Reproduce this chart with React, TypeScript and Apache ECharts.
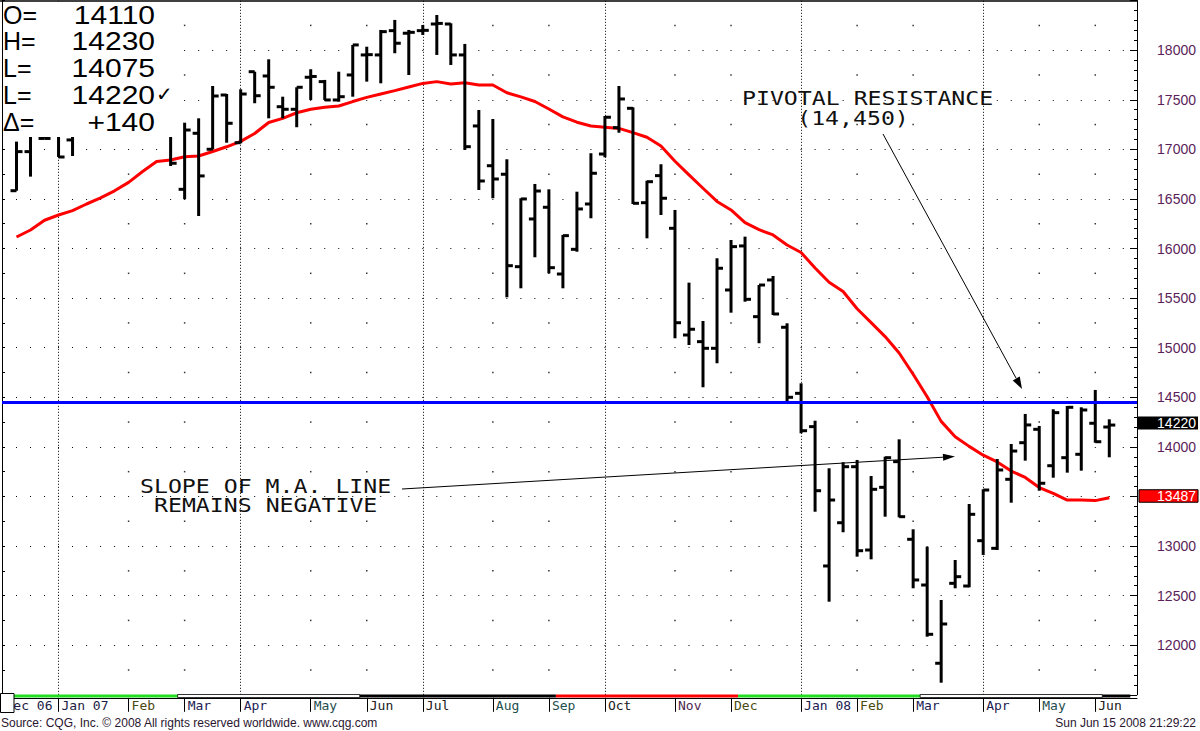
import React, { useEffect, useRef } from 'react';
import * as echarts from 'echarts';

// Weekly bars. Index 0 = week of 4 Dec 2006, index 79 = week of 9 Jun 2008.
// (Values for weeks hidden under the quote box are estimated.)
const openP: (number | null)[] = [
  null, 16583, 16977, 17110, 17200, 17095, 17350, 17420, 17450, 17560,
  17500, 17930, 18200, 16597, 17162, 17001, 17548, 17067, 17783, 17740,
  17430, 17404, 17727, 17683, 17498, 17750, 17952, 17952, 18197, 18171,
  18197, 18264, 18264, 17952, 17236, 16835, 16749, 15817, 16298, 16416,
  15743, 15992, 16449, 16953, 17219, 17414, 16462, 16735, 16204, 15128,
  15061, 14994, 15582, 16026, 15313, 15683, 15206, 14540, 14204, 12799,
  13235, 13800, 12960, 13592, 13851, 13068, 12607, 11818, 12624, 12597,
  13054, 12977, 13673, 14042, 14177, 13810, 13891, 13925, 14238, 14200,
];
const highP: (number | null)[] = [
  null, 17078, 17200, 17350, 17300, 17400, 17480, 17600, 17620, 17650,
  17950, 18250, 18300, 17269, 17313, 17639, 17558, 17606, 17783, 17908,
  17531, 17626, 17808, 17700, 17783, 18053, 18035, 18204, 18305, 18204,
  18254, 18355, 18271, 18063, 17397, 17306, 16900, 16507, 16651, 16597,
  16137, 16573, 16961, 17337, 17639, 17424, 16684, 16850, 16389, 15656,
  15269, 15902, 16086, 16120, 15632, 15723, 15246, 14641, 14264, 13784,
  13845, 13868, 13706, 13901, 14076, 13169, 12993, 12456, 12859, 13424,
  13572, 13878, 14029, 14332, 14211, 14379, 14412, 14399, 14574, 14278,
];
const lowP: (number | null)[] = [
  null, 16583, 16725, 17110, 16923, 16933, 17150, 17300, 17350, 17380,
  17450, 17880, 16832, 16497, 16328, 17001, 17067, 17061, 17465, 17313,
  17313, 17223, 17498, 17498, 17481, 17531, 17683, 17666, 17969, 17750,
  18153, 17952, 17851, 16994, 16590, 16507, 15508, 15599, 15912, 15750,
  15599, 15968, 16305, 16920, 17168, 16449, 16103, 16338, 15095, 15027,
  14601, 14843, 15353, 15464, 15045, 15330, 14439, 14137, 13346, 12439,
  13139, 12893, 12866, 13296, 13290, 12574, 12086, 11622, 12574, 12584,
  12910, 12960, 13437, 13861, 13558, 13689, 13740, 13760, 14042, 13895,
];
const closeP: (number | null)[] = [
  null, 16977, 17150, 17110, 16923, 17350, 17420, 17450, 17560, 17500,
  17930, 18190, 16860, 17195, 16732, 17538, 17263, 17558, 17541, 17626,
  17404, 17626, 17735, 17498, 17531, 18053, 17955, 18187, 18070, 18180,
  18200, 18270, 17952, 17027, 16681, 16701, 15827, 16500, 16580, 15807,
  16130, 16399, 16759, 17324, 17508, 16456, 16674, 16507, 15252, 15186,
  14994, 15801, 16019, 15488, 15632, 15340, 14500, 14163, 13558, 13464,
  13800, 12953, 13572, 13891, 13296, 12658, 12110, 12214, 12691, 13320,
  13565, 13767, 13958, 14221, 13633, 14345, 14399, 14372, 14052, 14220,
];
// Moving average (red line)
const maValues: (number | null)[] = [
  null, 16116, 16187, 16285, 16338, 16382, 16449, 16510, 16582, 16667,
  16777, 16878, 16893, 16925, 16933, 16978, 17026, 17081, 17160, 17271,
  17312, 17369, 17404, 17424, 17437, 17482, 17524, 17558, 17592, 17629,
  17665, 17683, 17659, 17671, 17649, 17649, 17571, 17529, 17483, 17407,
  17327, 17274, 17236, 17222, 17211, 17169, 17122, 17034, 16880, 16742,
  16608, 16475, 16389, 16261, 16190, 16137, 16036, 15960, 15804, 15660,
  15566, 15393, 15253, 15112, 14947, 14732, 14506, 14257, 14103, 14005,
  13916, 13848, 13756, 13692, 13590, 13532, 13464, 13464, 13458, 13487,
];

const monthTickIdx = [0, 4, 9, 13, 17, 22, 26, 30, 35, 39, 43, 48, 52, 57, 61, 65, 70, 74, 78];
const monthLabels = ['Dec 06', 'Jan 07', 'Feb', 'Mar', 'Apr', 'May', 'Jun', 'Jul', 'Aug', 'Sep', 'Oct', 'Nov', 'Dec', 'Jan 08', 'Feb', 'Mar', 'Apr', 'May', 'Jun'];
const monthColors = ['#1c1c44', '#1c1c44', '#4a4a12', '#202052', '#202052', '#1e4e4e', '#202020', '#202020', '#1e4e4e', '#1e4e4e', '#202020', '#4e1e4e', '#4a4a12', '#202052', '#4a4a12', '#202052', '#202052', '#1e4e4e', '#202020'];
const quarterIdx = [4, 17, 30, 43, 57, 70];
const sparseLevels = [11750, 12250, 12750, 13250, 13750, 14250, 14750, 15250, 15750, 16250, 16750, 17250, 17750, 18250];
const priceTickLabels = [12000, 12500, 13000, 14000, 14500, 15000, 15500, 16000, 16500, 17000, 17500, 18000];
const seasonStart = [-0.5, 12.5, 25.5, 39.5, 52.5, 65.5, 78.5];
const seasonEnd = [12.5, 25.5, 39.5, 52.5, 65.5, 78.5, 80.5];
const seasonColor = ['#22dd22', '#ffffff', '#000000', '#ff0000', '#22dd22', '#ffffff', '#000000'];
const pivotLevel = 14450;
const lastClose = 14220;
const lastMA = 13487;
const quoteLabels = ['O=', 'H=', 'L=', 'L=', 'Δ='];
const quoteValues = ['14110', '14230', '14075', '14220', '+140'];

export default function App() {
  const ref = useRef<HTMLDivElement>(null);
  useEffect(() => {
    const el = ref.current!;
    const chart = echarts.init(el, null, { renderer: 'svg' });
    const W = 1200, H = 731;
    const GL = 2, GR = 1137, GT = 0.6, GB = 694.8;
    const WEEK = 14.01, X0 = 2.5;
    const xMin = (GL - X0) / WEEK;
    const xMax = (GR - X0) / WEEK;

    const ohlc: number[][] = [];
    for (let i = 0; i < openP.length; i++) {
      if (openP[i] != null) ohlc.push([i, openP[i] as number, highP[i] as number, lowP[i] as number, closeP[i] as number]);
    }
    const maData: number[][] = [];
    maValues.forEach((v, i) => { if (v != null) maData.push([i, v]); });
    const dots: number[][] = [];
    monthTickIdx.forEach((m) => {
      if (m > 0 && quarterIdx.indexOf(m) < 0) sparseLevels.forEach((lv) => dots.push([m, lv]));
    });

    const labelFor = (v: number) => {
      const k = monthTickIdx.indexOf(Math.round(v));
      return k >= 0 ? monthLabels[k] : '';
    };
    const colorFor = (v: number) => {
      const k = monthTickIdx.indexOf(Math.round(v));
      return k >= 0 ? monthColors[k] : '#222';
    };

    const option: any = {
      animation: false,
      backgroundColor: '#ffffff',
      grid: { left: GL, right: W - GR, top: GT, bottom: H - GB, containLabel: false },
      xAxis: [{
        type: 'value', min: xMin, max: xMax, offset: 3,
        axisLine: { show: true, onZero: false, lineStyle: { color: '#000', width: 1 } },
        axisTick: { show: true, customValues: monthTickIdx, length: 14, lineStyle: { color: '#000', width: 1 } },
        axisLabel: {
          show: true, customValues: monthTickIdx, formatter: (v: number) => labelFor(v),
          align: 'left', margin: 1, padding: [0, 0, 0, 3],
          fontFamily: 'DejaVu Sans Mono', fontSize: 13, color: (v: any) => colorFor(Number(v)),
        },
        splitLine: { show: false },
      }],
      yAxis: [
        {
          type: 'value', position: 'right', min: 11500, max: 18500, interval: 500,
          axisLine: { show: true, onZero: false, lineStyle: { color: '#000', width: 1 } },
          axisTick: { show: true, inside: true, length: 7, lineStyle: { color: '#000', width: 1 } },
          minorTick: { show: true, splitNumber: 5, length: 3, lineStyle: { color: '#000', width: 1 } },
          axisLabel: {
            show: true, margin: 59, align: 'right', color: '#5a1e5a',
            customValues: priceTickLabels,
            formatter: (v: number) => String(Math.round(v)),
            fontFamily: 'Liberation Sans', fontSize: 14,
            padding: [0, 0, 4, 0],
          },
          splitLine: {
            show: true, showMinLine: false, showMaxLine: false,
            lineStyle: { color: '#000', width: 1, type: [1, 13.01], dashOffset: 13.51 },
          },
          minorSplitLine: { show: false },
        },
        {
          type: 'value', position: 'left', min: 11500, max: 18500, interval: 250,
          axisLine: { show: true, onZero: false, lineStyle: { color: '#000', width: 1 } },
          axisTick: { show: true, inside: true, length: 3, lineStyle: { color: '#000', width: 1 } },
          axisLabel: { show: false },
          splitLine: { show: false },
        },
      ],
      series: [
        {
          type: 'scatter', name: 'dots', data: dots, yAxisIndex: 0, symbol: 'rect', symbolSize: 1.5,
          itemStyle: { color: '#000' }, silent: true, z: 1, emphasis: { disabled: true },
          markLine: {
            silent: true, symbol: 'none', z: 1, label: { show: false },
            lineStyle: { color: '#000', width: 1, type: [1, 2] },
            emphasis: { disabled: true },
            data: quarterIdx.map((q) => ({ xAxis: q })),
          },
        },
        {
          type: 'line', name: 'MA', data: maData, yAxisIndex: 0, symbol: 'none', z: 2,
          lineStyle: { color: '#ff0000', width: 3 }, itemStyle: { color: '#ff0000' },
          emphasis: { disabled: true }, silent: true,
          markLine: {
            silent: true, symbol: 'none', z: 5, label: { show: false },
            lineStyle: { color: '#0000ff', width: 3, type: 'solid' },
            emphasis: { disabled: true },
            data: [{ yAxis: pivotLevel }],
          },
        },
        {
          type: 'custom', name: 'OHLC', data: ohlc, yAxisIndex: 0, z: 3, silent: true,
          encode: { x: 0, y: [1, 2, 3, 4] },
          renderItem: (params: any, api: any) => {
            const i = api.value(0);
            const pH = api.coord([i, api.value(2)]);
            const x = pH[0];
            const yH = pH[1];
            const yL = api.coord([i, api.value(3)])[1];
            const yO = api.coord([i, api.value(1)])[1];
            const yC = api.coord([i, api.value(4)])[1];
            const st = () => ({ stroke: '#000', lineWidth: 3 });
            return {
              type: 'group',
              children: [
                { type: 'line', shape: { x1: x, y1: yH, x2: x, y2: yL }, style: st() },
                { type: 'line', shape: { x1: x - 6, y1: yO, x2: x, y2: yO }, style: st() },
                { type: 'line', shape: { x1: x, y1: yC, x2: x + 6, y2: yC }, style: st() },
              ],
            };
          },
        },
      ],
    };
    chart.setOption(option);

    const px = (i: number, v: number) => chart.convertToPixel({ xAxisIndex: 0, yAxisIndex: 0 } as any, [i, v]) as number[];

    const g: any[] = [];
    // season strip
    for (let k = 0; k < seasonStart.length; k++) {
      const x1 = px(seasonStart[k], 14000)[0];
      const x2 = px(seasonEnd[k], 14000)[0];
      const white = seasonColor[k] === '#ffffff';
      g.push({
        type: 'rect', z: 50, shape: { x: x1, y: 694.5, width: x2 - x1, height: 3 },
        style: { fill: seasonColor[k], stroke: white ? '#000' : null, lineWidth: white ? 0.8 : 0 },
      });
    }
    g.push({ type: 'rect', z: 60, shape: { x: 0.5, y: 693.5, width: 13.5, height: 19 }, style: { fill: '#fff', stroke: '#000', lineWidth: 1 } });

    // quote box
    g.push({ type: 'rect', z: 100, shape: { x: 3, y: 1.5, width: 170, height: 135.5 }, style: { fill: '#fff' } });
    const rowsY = [15, 41, 68, 95, 122];
    quoteLabels.forEach((t, k) => {
      g.push({ type: 'text', z: 101, x: 3, y: rowsY[k], style: { text: t, fill: '#000', fontFamily: 'Liberation Sans', fontSize: 25, align: 'left', verticalAlign: 'middle' } });
      g.push({ type: 'text', z: 101, x: 155, y: rowsY[k], scaleX: 1.2, style: { text: quoteValues[k], fill: '#000', fontFamily: 'Liberation Sans', fontSize: 25, align: 'right', verticalAlign: 'middle' } });
    });
    g.push({ type: 'text', z: 101, x: 156, y: 94, style: { text: '✓', fill: '#000', fontFamily: 'DejaVu Sans', fontSize: 20, align: 'left', verticalAlign: 'middle' } });
    // top frame
    g.push({ type: 'line', z: 102, shape: { x1: 0, y1: 1, x2: 1138, y2: 1 }, style: { stroke: '#000', lineWidth: 1.5 } });

    // price tags
    const yClose = px(79, lastClose)[1] - 2;
    g.push({ type: 'rect', z: 110, shape: { x: 1138, y: yClose - 6.5, width: 60, height: 13 }, style: { fill: '#000' } });
    g.push({ type: 'text', z: 111, x: 1196, y: yClose, style: { text: String(lastClose), fill: '#fff', fontFamily: 'Liberation Sans', fontSize: 14, align: 'right', verticalAlign: 'middle' } });
    const yMA = px(79, lastMA)[1] - 2;
    g.push({ type: 'rect', z: 110, shape: { x: 1139, y: yMA - 6, width: 59, height: 12.5 }, style: { fill: '#ff0000', stroke: '#000', lineWidth: 1 } });
    g.push({ type: 'text', z: 111, x: 1196, y: yMA, style: { text: String(lastMA), fill: '#fff', fontFamily: 'Liberation Sans', fontSize: 14, align: 'right', verticalAlign: 'middle' } });

    // annotations
    const annFont = { fontFamily: 'DejaVu Sans Mono', fontSize: 20, fill: '#111' };
    g.push({ type: 'text', z: 90, x: 742, y: 98, scaleX: 1.16, style: { ...annFont, text: 'PIVOTAL RESISTANCE', align: 'left', verticalAlign: 'middle' } });
    g.push({ type: 'text', z: 90, x: 853, y: 118, scaleX: 1.16, style: { ...annFont, text: '(14,450)', align: 'center', verticalAlign: 'middle' } });
    g.push({ type: 'text', z: 90, x: 140, y: 486, scaleX: 1.16, style: { ...annFont, text: 'SLOPE OF M.A. LINE', align: 'left', verticalAlign: 'middle' } });
    g.push({ type: 'text', z: 90, x: 154, y: 505.5, scaleX: 1.16, style: { ...annFont, text: 'REMAINS NEGATIVE', align: 'left', verticalAlign: 'middle' } });

    const arrow = (x1: number, y1: number, x2: number, y2: number, len: number, hw: number) => {
      const dx = x2 - x1, dy = y2 - y1;
      const L = Math.sqrt(dx * dx + dy * dy);
      const ux = dx / L, uy = dy / L;
      const bx = x2 - ux * len, by = y2 - uy * len;
      const nx = -uy, ny = ux;
      g.push({ type: 'line', z: 90, shape: { x1, y1, x2: bx, y2: by }, style: { stroke: '#000', lineWidth: 1 } });
      g.push({ type: 'polygon', z: 90, shape: { points: [[x2, y2], [bx + nx * hw, by + ny * hw], [bx - nx * hw, by - ny * hw]] }, style: { fill: '#000' } });
    };
    arrow(883, 134, 1022, 389, 12, 4);
    arrow(402, 489, 955, 456.5, 12, 3.5);

    // footer
    g.push({ type: 'text', z: 90, x: 1, y: 723, style: { text: 'Source: CQG, Inc. © 2008 All rights reserved worldwide. www.cqg.com', fill: '#2a1530', fontFamily: 'Liberation Sans', fontSize: 12, align: 'left', verticalAlign: 'middle' } });
    g.push({ type: 'text', z: 90, x: 1196, y: 723, style: { text: 'Sun Jun 15 2008 21:29:22', fill: '#2a1530', fontFamily: 'Liberation Sans', fontSize: 12, align: 'right', verticalAlign: 'middle' } });

    chart.setOption({ graphic: { elements: g } });

    return () => { chart.dispose(); };
  }, []);
  return <div ref={ref} style={{ position: 'absolute', left: 0, top: 0, width: 1200, height: 731 }} />;
}
